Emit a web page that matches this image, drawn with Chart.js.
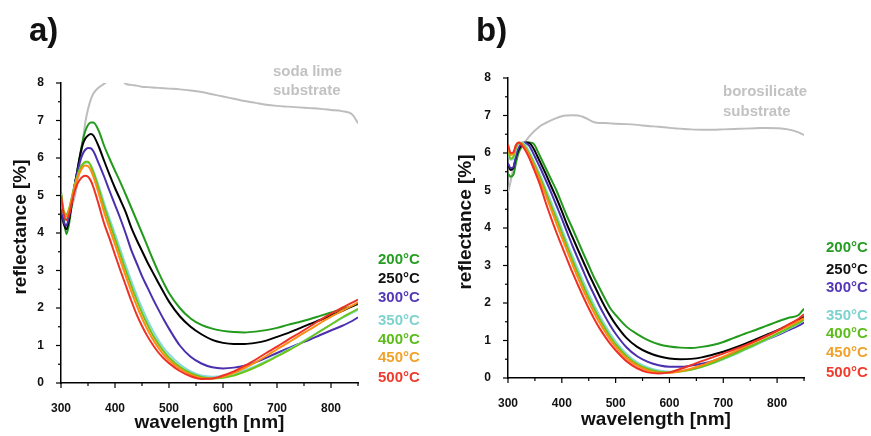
<!DOCTYPE html>
<html><head><meta charset="utf-8">
<script src="https://cdn.jsdelivr.net/npm/chart.js@4.4.1/dist/chart.umd.min.js"></script>
<style>
html,body{margin:0;padding:0;background:#fff;}
#wrap{position:relative;width:871px;height:436px;overflow:hidden;background:#fff;}
canvas{position:absolute;top:0;}
#ca{left:0;} #cb{left:440px;}
</style></head><body>
<div id="wrap"><canvas id="ca" width="440" height="436"></canvas><canvas id="cb" width="431" height="436"></canvas></div>
<script>
// ---------- DATA ----------
const wavelength = [300,305,310,315,320,325,330,335,340,345,350,355,360,370,380,390,400,410,420,430,440,450,460,470,480,490,500,520,540,560,580,600,620,640,660,680,700,720,740,760,780,800,820,840,850];
const seriesLabels = ['200°C','250°C','300°C','350°C','400°C','450°C','500°C'];

// panel a) soda lime
const sodaLime = [4.7,4.4,4.35,4.5,4.7,4.95,5.3,5.8,6.4,6.95,7.3,7.55,7.72,7.88,7.98,8.1,8.2,8.1,7.98,7.95,7.93,7.9,7.89,7.88,7.87,7.86,7.85,7.83,7.8,7.76,7.7,7.64,7.58,7.52,7.47,7.42,7.39,7.37,7.35,7.33,7.31,7.28,7.25,7.15,6.93];
const a200 = [5.10,4.40,3.97,4.25,4.75,5.25,5.65,6.05,6.45,6.72,6.88,6.95,6.95,6.72,6.32,5.98,5.66,5.35,5.02,4.68,4.34,4.0,3.65,3.3,2.97,2.67,2.40,2.0,1.72,1.55,1.45,1.39,1.36,1.35,1.37,1.41,1.47,1.55,1.62,1.70,1.79,1.88,1.97,2.05,2.10];
const a250 = [4.55,4.25,4.10,4.35,4.80,5.25,5.65,6.05,6.35,6.52,6.60,6.64,6.60,6.30,5.92,5.55,5.20,4.88,4.55,4.15,3.82,3.52,3.22,2.95,2.68,2.42,2.17,1.78,1.50,1.30,1.15,1.07,1.04,1.04,1.07,1.13,1.23,1.33,1.45,1.57,1.68,1.80,1.92,2.05,2.13];
const a300 = [4.65,4.30,4.20,4.45,4.85,5.25,5.60,5.90,6.10,6.22,6.27,6.26,6.18,5.85,5.50,5.12,4.75,4.38,3.98,3.55,3.20,2.85,2.55,2.25,1.97,1.70,1.45,1.00,0.70,0.52,0.42,0.39,0.41,0.46,0.55,0.67,0.80,0.92,1.04,1.15,1.28,1.40,1.52,1.66,1.75];
const a350 = [4.90,4.50,4.40,4.60,4.95,5.25,5.50,5.70,5.82,5.87,5.88,5.80,5.65,5.25,4.80,4.38,3.97,3.55,3.13,2.73,2.35,2.00,1.68,1.40,1.15,0.94,0.77,0.50,0.31,0.20,0.17,0.19,0.25,0.34,0.45,0.58,0.73,0.88,1.04,1.21,1.39,1.56,1.73,1.88,1.95];
const a400 = [5.05,4.60,4.50,4.65,4.95,5.25,5.50,5.70,5.83,5.90,5.90,5.80,5.62,5.18,4.70,4.27,3.85,3.42,3.00,2.60,2.22,1.87,1.56,1.28,1.05,0.85,0.68,0.43,0.26,0.16,0.12,0.14,0.20,0.30,0.42,0.56,0.71,0.86,1.02,1.20,1.38,1.56,1.74,1.90,1.98];
const a450 = [5.00,4.55,4.45,4.60,4.90,5.20,5.45,5.62,5.75,5.80,5.78,5.68,5.50,5.05,4.55,4.12,3.70,3.27,2.85,2.45,2.07,1.73,1.43,1.17,0.95,0.76,0.61,0.38,0.22,0.13,0.12,0.17,0.27,0.40,0.55,0.72,0.90,1.07,1.25,1.42,1.60,1.77,1.92,2.07,2.15];
const a500 = [5.00,4.50,4.35,4.50,4.80,5.10,5.30,5.42,5.50,5.53,5.50,5.40,5.22,4.75,4.25,3.85,3.42,3.00,2.60,2.20,1.83,1.52,1.25,1.02,0.82,0.66,0.53,0.32,0.18,0.11,0.12,0.20,0.31,0.46,0.62,0.80,0.97,1.15,1.32,1.50,1.68,1.85,2.00,2.15,2.22];

// panel b) borosilicate
const borosilicate = [4.95,5.25,5.6,5.85,6.02,6.15,6.27,6.36,6.45,6.53,6.6,6.66,6.72,6.8,6.87,6.93,6.98,7.0,7.01,7.0,6.96,6.89,6.82,6.8,6.8,6.79,6.78,6.77,6.75,6.72,6.7,6.67,6.65,6.63,6.62,6.62,6.63,6.64,6.65,6.66,6.67,6.66,6.63,6.55,6.48];
const b200 = [5.45,5.37,5.42,5.75,6.02,6.17,6.25,6.28,6.28,6.27,6.20,6.05,5.90,5.60,5.30,5.00,4.65,4.30,3.98,3.65,3.32,3.00,2.68,2.40,2.12,1.86,1.68,1.37,1.17,1.01,0.90,0.84,0.81,0.80,0.83,0.88,0.96,1.07,1.18,1.28,1.39,1.50,1.60,1.68,1.85];
const b250 = [5.70,5.55,5.60,5.90,6.10,6.20,6.26,6.28,6.26,6.18,6.05,5.90,5.75,5.45,5.12,4.80,4.45,4.08,3.75,3.42,3.10,2.78,2.48,2.18,1.90,1.65,1.43,1.07,0.83,0.68,0.58,0.52,0.50,0.51,0.55,0.62,0.70,0.80,0.91,1.03,1.15,1.27,1.40,1.55,1.63];
const b300 = [5.72,5.60,5.62,5.95,6.15,6.25,6.28,6.25,6.18,6.05,5.90,5.75,5.60,5.28,4.95,4.60,4.25,3.88,3.52,3.18,2.85,2.52,2.22,1.92,1.65,1.40,1.18,0.82,0.58,0.43,0.34,0.30,0.30,0.33,0.38,0.45,0.55,0.66,0.78,0.90,1.02,1.14,1.27,1.40,1.48];
const b350 = [6.00,5.82,5.85,6.10,6.25,6.28,6.25,6.15,6.02,5.88,5.72,5.56,5.40,5.05,4.70,4.35,3.98,3.60,3.25,2.90,2.57,2.25,1.95,1.67,1.42,1.18,0.98,0.65,0.42,0.28,0.20,0.17,0.18,0.23,0.30,0.39,0.50,0.62,0.75,0.88,1.02,1.16,1.30,1.45,1.55];
const b400 = [6.05,5.85,5.90,6.15,6.27,6.27,6.20,6.10,5.97,5.82,5.66,5.50,5.33,4.97,4.60,4.25,3.88,3.50,3.14,2.79,2.46,2.14,1.85,1.58,1.33,1.10,0.90,0.59,0.37,0.24,0.17,0.15,0.17,0.22,0.30,0.40,0.52,0.64,0.77,0.90,1.04,1.18,1.32,1.47,1.55];
const b450 = [6.15,5.95,5.98,6.20,6.28,6.25,6.17,6.06,5.92,5.76,5.60,5.43,5.25,4.88,4.50,4.12,3.75,3.38,3.02,2.67,2.34,2.03,1.74,1.48,1.24,1.02,0.83,0.53,0.33,0.20,0.14,0.14,0.18,0.25,0.34,0.45,0.57,0.70,0.83,0.97,1.11,1.25,1.38,1.52,1.60];
const b500 = [6.22,6.00,6.02,6.22,6.28,6.22,6.12,6.00,5.85,5.68,5.50,5.32,5.13,4.68,4.27,3.88,3.52,3.16,2.81,2.48,2.16,1.86,1.58,1.33,1.11,0.91,0.74,0.45,0.26,0.15,0.12,0.15,0.24,0.34,0.45,0.55,0.65,0.76,0.87,0.99,1.12,1.26,1.42,1.58,1.70];

// ---------- STYLES ----------
const lineColors = ['#229a1c','#000000','#4a2fae','#86dada','#6cc417','#ff8a14','#ee3124'];
const textColors = ['#259d22','#111111','#5438b8','#7fd3cf','#5cbd1a','#f0a22a','#ef3b2c'];
const substrateColor = '#c2c2c2';
const FONT = '"Liberation Sans", Arial, Helvetica, sans-serif';

function pts(vals){ return wavelength.map((w,i)=>({x:w,y:vals[i]})); }

function makeDatasets(series, substrate){
  const ds = [];
  for (let i = series.length-1; i >= 0; i--) {
    ds.push({label: seriesLabels[i], data: pts(series[i]), borderColor: lineColors[i], borderWidth: 2, pointRadius: 0, cubicInterpolationMode: 'monotone', fill: false});
  }
  ds.push({label: 'substrate', data: pts(substrate), borderColor: '#bdbdbd', borderWidth: 2, pointRadius: 0, cubicInterpolationMode: 'monotone', fill: false});
  return ds;
}

const decoPlugin = {
  id: 'deco',
  afterDraw(chart, args, o) {
    const ctx = chart.ctx, ca = chart.chartArea;
    const xs = chart.scales.x, ys = chart.scales.y;
    ctx.save();
    // tick marks (major/minor)
    ctx.strokeStyle = '#000'; ctx.lineWidth = 1.2;
    ys.ticks.forEach(t => {
      const p = ys.getPixelForValue(t.value);
      const len = Number.isInteger(t.value) ? 5 : 3;
      ctx.beginPath(); ctx.moveTo(ca.left - len, p); ctx.lineTo(ca.left, p); ctx.stroke();
    });
    xs.ticks.forEach(t => {
      const p = xs.getPixelForValue(t.value);
      const len = t.value % 100 === 0 ? 5 : 3;
      ctx.beginPath(); ctx.moveTo(p, ca.bottom); ctx.lineTo(p, ca.bottom + len); ctx.stroke();
    });
    // axis titles
    ctx.fillStyle = '#111';
    ctx.font = 'bold 19px ' + FONT;
    ctx.textAlign = 'center'; ctx.textBaseline = 'alphabetic';
    ctx.fillText('wavelength [nm]', (ca.left + ca.right) / 2, ca.bottom + o.xTitleOffset);
    ctx.save();
    ctx.translate(ca.left + o.yTitleOffset, (ca.top + ca.bottom) / 2 - 6);
    ctx.rotate(-Math.PI / 2);
    ctx.textBaseline = 'middle';
    ctx.fillText('reflectance [%]', 0, 0);
    ctx.restore();
    // panel label
    ctx.font = 'bold 33px ' + FONT;
    ctx.textAlign = 'left'; ctx.textBaseline = 'alphabetic';
    ctx.fillStyle = '#111';
    ctx.fillText(o.panel, o.panelX, o.panelY);
    // legend texts
    ctx.font = 'bold 15px ' + FONT;
    ctx.textBaseline = 'middle';
    seriesLabels.forEach((s, i) => {
      ctx.fillStyle = textColors[i];
      ctx.fillText(s, o.legendX, o.legendY[i]);
    });
    // substrate label
    ctx.fillStyle = substrateColor;
    ctx.font = 'bold 15px ' + FONT;
    o.subText.forEach((s, i) => ctx.fillText(s, o.subX, o.subY[i]));
    ctx.restore();
  }
};

function makeChart(id, datasets, cfg){
  return new Chart(document.getElementById(id), {
    type: 'line',
    data: { datasets },
    options: {
      responsive: false, animation: false, devicePixelRatio: 1,
      layout: { padding: cfg.padding },
      plugins: { legend: {display: false}, tooltip: {enabled: false}, deco: cfg.deco },
      scales: {
        x: {
          type: 'linear', min: 300, max: 850,
          grid: { display: false },
          border: { display: true, color: '#000', width: 1.5 },
          ticks: { stepSize: 50, autoSkip: false, padding: 10, color: '#111', font: {family: FONT, size: 12, weight: 'bold'},
                   callback: v => (v % 100 === 0 && v <= 800) ? String(v) : '' , maxRotation: 0},
          afterFit: s => { s.height = cfg.xH; }
        },
        y: {
          min: 0, max: 8,
          grid: { display: false },
          border: { display: true, color: '#000', width: 1.5 },
          ticks: { stepSize: 0.5, autoSkip: false, padding: 9, color: '#111', font: {family: FONT, size: 12, weight: 'bold'},
                   callback: v => Number.isInteger(v) ? String(v) : '' },
          afterFit: s => { s.width = cfg.yW; }
        }
      }
    },
    plugins: [decoPlugin]
  });
}

makeChart('ca', makeDatasets([a200,a250,a300,a350,a400,a450,a500], sodaLime), {
  padding: {left: 0, right: 82, top: 83, bottom: 0}, yW: 61, xH: 53,
  deco: { panel: 'a)', panelX: 29, panelY: 41, xTitleOffset: 45, yTitleOffset: -40,
          legendX: 378, legendY: [260,279,298,321,340,358,378],
          subText: ['soda lime','substrate'], subX: 273, subY: [72,91] }
});
makeChart('cb', makeDatasets([b200,b250,b300,b350,b400,b450,b500], borosilicate), {
  padding: {left: 0, right: 67, top: 78, bottom: 0}, yW: 68, xH: 58,
  deco: { panel: 'b)', panelX: 36, panelY: 41, xTitleOffset: 47, yTitleOffset: -42,
          legendX: 386, legendY: [248,270,288,316,334,353,373],
          subText: ['borosilicate','substrate'], subX: 283, subY: [92,112] }
});
</script>
</body></html>
